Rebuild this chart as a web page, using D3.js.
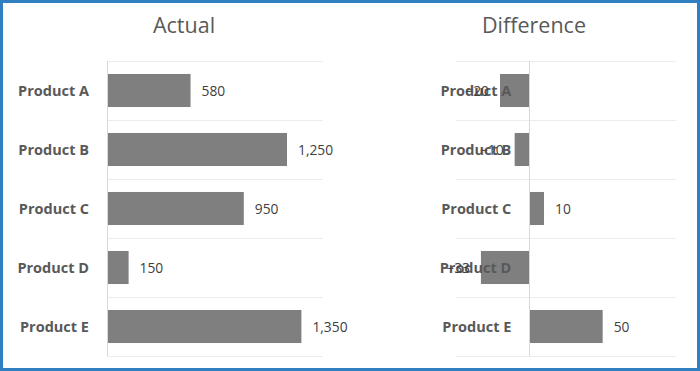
<!DOCTYPE html>
<html>
<head>
<meta charset="utf-8">
<script src="https://cdn.jsdelivr.net/npm/d3@7"></script>
<style>
  body { margin: 0; background: #fff; }
  svg { display: block; font-family: "Open Sans", sans-serif; }
</style>
</head>
<body>
<script>
const products = ['Product A', 'Product B', 'Product C', 'Product D', 'Product E']
const actual = [580, 1250, 950, 150, 1350]
const difference = [-20, -10, 10, -33, 50]
const titles = ['Actual', 'Difference']

const WIDTH = 700
const HEIGHT = 371

const svg = d3.select('body').append('svg')
    .attr('width', WIDTH)
    .attr('height', HEIGHT)

// blue frame
svg.append('rect')
    .attr('x', 1.5).attr('y', 1.5)
    .attr('width', WIDTH - 3).attr('height', HEIGHT - 3)
    .attr('fill', '#fff')
    .attr('stroke', '#2f7fc1')
    .attr('stroke-width', 3)

const fmt = d3.format(',')

function panel(title, values, domain, xRange, titleX) {
    const x = d3.scaleLinear().domain(domain).range(xRange)
    const y = d3.scaleBand()
        .domain(products)
        .range([61, 356])
        .paddingInner(0.44)
        .paddingOuter(0.22)

    const g = svg.append('g')

    g.append('text')
        .attr('x', titleX)
        .attr('y', 33)
        .attr('text-anchor', 'middle')
        .attr('font-size', 21.5)
        .attr('fill', '#595959')
        .text(title)

    // horizontal gridlines between categories
    const lines = d3.range(products.length + 1).map(i => 61 + i * (295 / products.length))
    g.selectAll('line.grid')
        .data(lines)
        .join('line')
            .attr('class', 'grid')
            .attr('x1', xRange[0]).attr('x2', xRange[1])
            .attr('y1', d => Math.round(d) + 0.5)
            .attr('y2', d => Math.round(d) + 0.5)
            .attr('stroke', '#ececec')

    g.selectAll('rect.bar')
        .data(values)
        .join('rect')
            .attr('class', 'bar')
            .attr('x', d => x(Math.min(0, d)))
            .attr('y', (d, i) => y(products[i]))
            .attr('width', d => Math.abs(x(d) - x(0)))
            .attr('height', y.bandwidth())
            .attr('fill', '#7f7f7f')

    // vertical axis at zero
    g.append('line')
        .attr('x1', Math.round(x(0)) + 0.5).attr('x2', Math.round(x(0)) + 0.5)
        .attr('y1', 61).attr('y2', 356)
        .attr('stroke', '#d9d9d9')

    g.selectAll('text.cat')
        .data(products)
        .join('text')
            .attr('class', 'cat')
            .attr('x', x(0) - 18)
            .attr('y', d => y(d) + y.bandwidth() / 2)
            .attr('dy', '0.35em')
            .attr('text-anchor', 'end')
            .attr('font-size', 14.5)
            .attr('font-weight', 'bold')
            .attr('fill', '#595959')
            .text(d => d)

    g.selectAll('text.val')
        .data(values)
        .join('text')
            .attr('class', 'val')
            .attr('x', d => d < 0 ? x(d) - 11 : x(d) + 11)
            .attr('y', (d, i) => y(products[i]) + y.bandwidth() / 2)
            .attr('dy', '0.4em')
            .attr('text-anchor', d => d < 0 ? 'end' : 'start')
            .attr('font-size', 13.8)
            .attr('fill', '#404040')
            .text(d => fmt(d))
}

panel(titles[0], actual, [0, 1500], [107, 323], 184)
panel(titles[1], difference, [-50, 100], [456, 676], 534)
</script>
</body>
</html>
